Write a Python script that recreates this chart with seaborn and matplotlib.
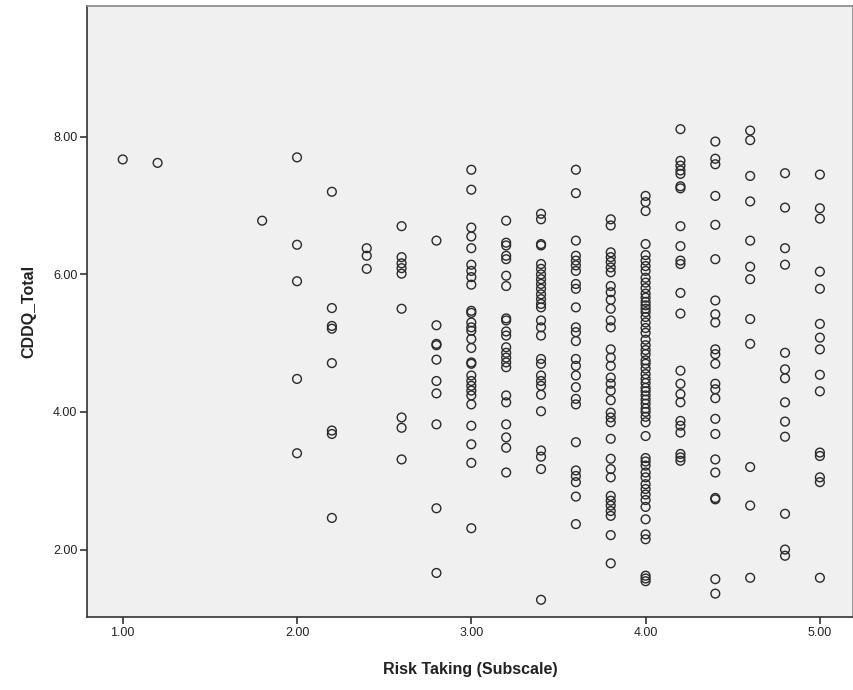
import matplotlib
matplotlib.use("Agg")
import matplotlib.pyplot as plt
import seaborn as sns
import pandas as pd

# CDDQ_Total values observed at each Risk Taking (Subscale) level
y_100 = [7.67]
y_120 = [7.62]
y_180 = [6.78]
y_200 = [7.70, 6.43, 5.90, 4.48, 3.40]
y_220 = [7.20, 5.51, 5.25, 5.21, 4.71, 3.73, 3.68, 2.46]
y_240 = [6.38, 6.27, 6.08]
y_260 = [6.70, 6.25, 6.16, 6.09, 6.01, 5.50, 3.92, 3.77, 3.31]
y_280 = [6.49, 5.26, 4.99, 4.97, 4.76, 4.45, 4.27, 3.82, 2.60, 1.66]
y_300 = [7.52, 7.23, 6.68, 6.55, 6.38, 6.14, 6.05, 5.96, 5.85, 5.47, 5.44,
         5.30, 5.23, 5.18, 5.06, 4.93, 4.72, 4.70, 4.53, 4.45, 4.38, 4.31,
         4.24, 4.11, 3.80, 3.53, 3.26, 2.31]
y_320 = [6.78, 6.46, 6.42, 6.27, 6.22, 5.98, 5.83, 5.36, 5.33, 5.17, 5.11,
         4.94, 4.86, 4.79, 4.72, 4.65, 4.24, 4.14, 3.82, 3.63, 3.48, 3.12]
y_340 = [6.88, 6.80, 6.44, 6.42, 6.15, 6.08, 6.00, 5.93, 5.86, 5.79, 5.71,
         5.64, 5.57, 5.52, 5.33, 5.23, 5.11, 4.77, 4.70, 4.53, 4.45, 4.38,
         4.25, 4.01, 3.44, 3.35, 3.17, 1.27]
y_360 = [7.52, 7.18, 6.49, 6.27, 6.20, 6.13, 6.05, 5.86, 5.79, 5.52, 5.23,
         5.16, 5.03, 4.77, 4.67, 4.53, 4.36, 4.19, 4.11, 3.56, 3.15, 3.07,
         2.98, 2.77, 2.37]
y_380 = [6.80, 6.71, 6.32, 6.25, 6.18, 6.10, 6.03, 5.83, 5.74, 5.63, 5.50,
         5.33, 5.23, 4.91, 4.79, 4.67, 4.50, 4.41, 4.31, 4.17, 3.99, 3.92,
         3.85, 3.61, 3.32, 3.17, 3.05, 2.78, 2.71, 2.64, 2.56, 2.49, 2.21,
         1.80]
y_400 = [7.14, 7.05, 6.92, 6.44, 6.28, 6.20, 6.12, 6.05, 5.95, 5.88, 5.80,
         5.72, 5.66, 5.60, 5.55, 5.50, 5.45, 5.38, 5.30, 5.22, 5.15, 5.05,
         4.97, 4.90, 4.84, 4.75, 4.70, 4.63, 4.55, 4.48, 4.42, 4.35, 4.30,
         4.24, 4.18, 4.12, 4.05, 4.00, 3.93, 3.85, 3.65, 3.33, 3.28, 3.22,
         3.12, 3.05, 2.95, 2.88, 2.80, 2.72, 2.62, 2.44, 2.22, 2.15, 1.62,
         1.58, 1.54]
y_420 = [8.11, 7.65, 7.58, 7.51, 7.46, 7.28, 7.25, 6.70, 6.41, 6.20, 6.15,
         5.73, 5.43, 4.60, 4.41, 4.26, 4.14, 3.87, 3.80, 3.70, 3.39, 3.34,
         3.29]
y_440 = [7.93, 7.68, 7.60, 7.14, 6.72, 6.22, 5.62, 5.42, 5.30, 4.91, 4.84,
         4.70, 4.41, 4.33, 4.20, 3.90, 3.68, 3.31, 3.12, 2.75, 2.73, 1.57,
         1.36]
y_460 = [8.09, 7.95, 7.43, 7.06, 6.49, 6.11, 5.93, 5.35, 4.99, 3.20, 2.64,
         1.59]
y_480 = [7.47, 6.97, 6.38, 6.14, 4.86, 4.62, 4.49, 4.14, 3.86, 3.64, 2.52,
         2.00, 1.91]
y_500 = [7.45, 6.96, 6.81, 6.04, 5.79, 5.28, 5.08, 4.91, 4.54, 4.30, 3.41,
         3.36, 3.05, 2.98, 1.59]

risk_levels = [1.0, 1.2, 1.8, 2.0, 2.2, 2.4, 2.6, 2.8, 3.0, 3.2, 3.4, 3.6,
               3.8, 4.0, 4.2, 4.4, 4.6, 4.8, 5.0]
cddq_groups = [y_100, y_120, y_180, y_200, y_220, y_240, y_260, y_280, y_300,
               y_320, y_340, y_360, y_380, y_400, y_420, y_440, y_460, y_480,
               y_500]

x_ticks = [1.0, 2.0, 3.0, 4.0, 5.0]
y_ticks = [2.0, 4.0, 6.0, 8.0]

rows = []
for xv, ys in zip(risk_levels, cddq_groups):
    for yv in ys:
        rows.append((xv, yv))
df = pd.DataFrame(rows, columns=["Risk Taking (Subscale)", "CDDQ_Total"])

sns.set_theme(style="white")
plt.rcParams["font.family"] = ["Liberation Sans", "DejaVu Sans"]

fig = plt.figure(figsize=(8.54, 6.90), dpi=100)
ax = fig.add_axes([87 / 854, (690 - 617) / 690, (853 - 87) / 854, (617 - 6) / 690])
ax.set_facecolor("#F0F0F0")

sns.scatterplot(data=df, x="Risk Taking (Subscale)", y="CDDQ_Total", ax=ax,
                marker="o", s=40, facecolors="none", edgecolor="#2a2a2a",
                linewidth=1.0)

ax.set_xlim(0.795, 5.19)
ax.set_ylim(1.02, 9.90)
ax.set_xticks(x_ticks)
ax.set_xticklabels([f"{v:.2f}" for v in x_ticks])
ax.set_yticks(y_ticks)
ax.set_yticklabels([f"{v:.2f}" for v in y_ticks])
ax.tick_params(axis="both", which="major", direction="out", length=5,
               width=1.2, color="#333333", labelsize=9, labelcolor="#222222",
               bottom=True, left=True, pad=2)

for side in ["left", "bottom"]:
    ax.spines[side].set_color("#333333")
    ax.spines[side].set_linewidth(1.2)
for side in ["top", "right"]:
    ax.spines[side].set_color("#888888")
    ax.spines[side].set_linewidth(1.2)

ax.set_xlabel("Risk Taking (Subscale)", fontsize=11.5, fontweight="bold",
              labelpad=17, color="#222222")
ax.set_ylabel("CDDQ_Total", fontsize=11.5, fontweight="bold", labelpad=12,
              color="#222222")

fig.savefig("out.png", dpi=100)
